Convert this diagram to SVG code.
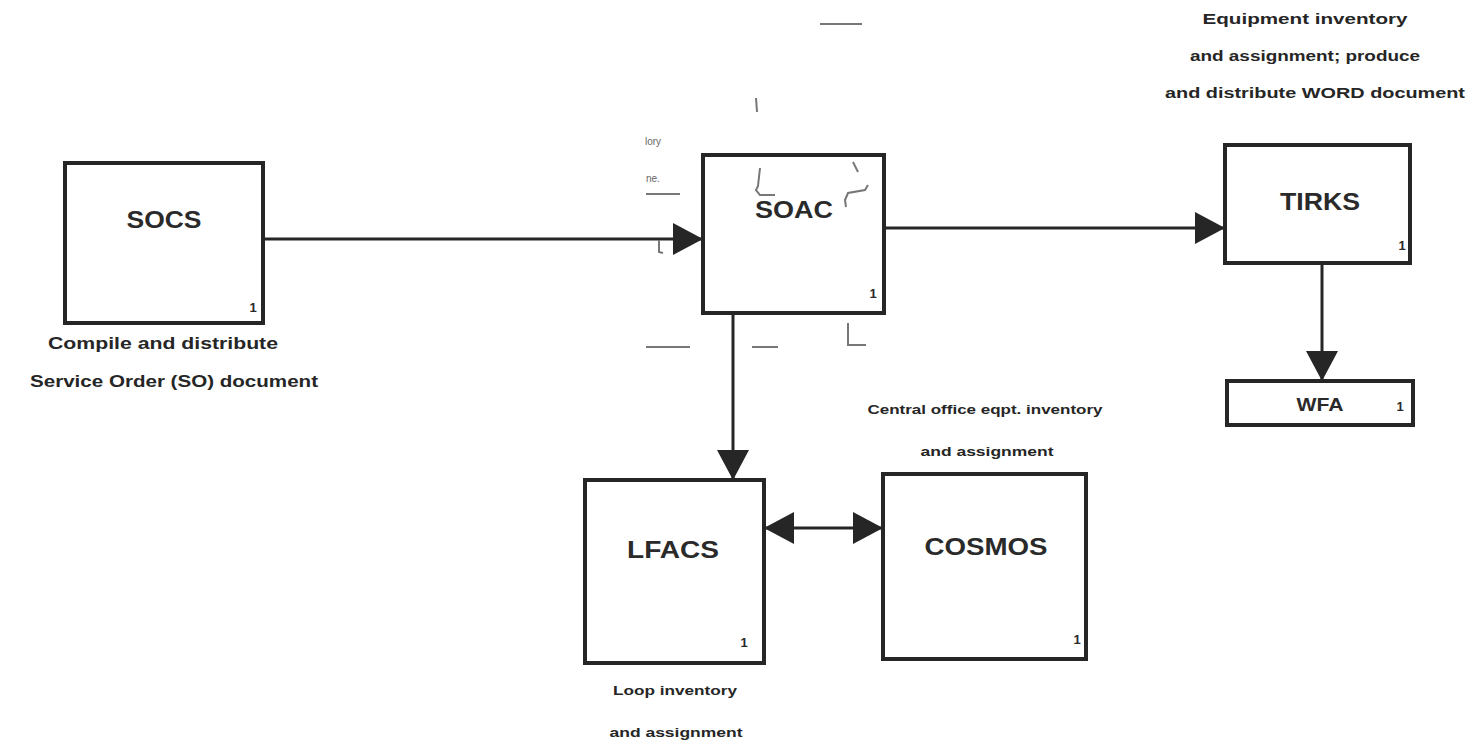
<svg xmlns="http://www.w3.org/2000/svg" width="1477" height="747" viewBox="0 0 1477 747">
<defs>
<style>
.box{fill:#fff;stroke:#262626;stroke-width:4}
.title{font-family:"Liberation Sans",Arial,sans-serif;font-weight:bold;fill:#2a2a2a;text-anchor:middle}
.num{font-family:"Liberation Sans",Arial,sans-serif;font-weight:bold;font-size:13px;fill:#2a2a2a;text-anchor:middle}
.lbl{font-family:"Liberation Sans",Arial,sans-serif;font-weight:bold;fill:#262626;text-anchor:middle}
.conn{stroke:#262626;stroke-width:3;fill:none}
.frag{stroke:#777;stroke-width:2;fill:none}
.fragt{font-family:"Liberation Sans",Arial,sans-serif;font-size:10px;fill:#666}
</style>
<marker id="ah" markerUnits="userSpaceOnUse" viewBox="0 0 30 32" refX="30" refY="16" markerWidth="30" markerHeight="32" orient="auto-start-reverse">
<path d="M0,0 L30,16 L0,32 z" fill="#262626"/>
</marker>
</defs>
<rect width="1477" height="747" fill="#fff"/>

<g id="connectors">
<line class="conn" x1="263" y1="239" x2="703" y2="239" marker-end="url(#ah)"/>
<line class="conn" x1="884" y1="228" x2="1225" y2="228" marker-end="url(#ah)"/>
<line class="conn" x1="1322" y1="263" x2="1322" y2="381" marker-end="url(#ah)"/>
<line class="conn" x1="733" y1="313" x2="733" y2="480" marker-end="url(#ah)"/>
<line class="conn" x1="764" y1="528" x2="883" y2="528" marker-start="url(#ah)" marker-end="url(#ah)"/>
</g>

<g id="SOCS">
<rect class="box" x="65" y="163" width="198" height="160"/>
<text class="title" x="164" y="228" font-size="23" textLength="75" lengthAdjust="spacingAndGlyphs">SOCS</text>
<text class="num" x="253" y="312">1</text>
<text class="lbl" x="163" y="349" font-size="16" textLength="230" lengthAdjust="spacingAndGlyphs">Compile and distribute</text>
<text class="lbl" x="174" y="387" font-size="16" textLength="288" lengthAdjust="spacingAndGlyphs">Service Order (SO) document</text>
</g>

<g id="SOAC">
<rect class="box" x="703" y="155" width="181" height="158"/>
<text class="title" x="794" y="218" font-size="23" textLength="78" lengthAdjust="spacingAndGlyphs">SOAC</text>
<text class="num" x="873" y="298">1</text>
</g>

<g id="TIRKS">
<rect class="box" x="1225" y="145" width="185" height="118"/>
<text class="title" x="1320" y="210" font-size="23" textLength="80" lengthAdjust="spacingAndGlyphs">TIRKS</text>
<text class="num" x="1402" y="250">1</text>
<text class="lbl" x="1305" y="24" font-size="14" textLength="205" lengthAdjust="spacingAndGlyphs">Equipment inventory</text>
<text class="lbl" x="1305" y="61" font-size="14" textLength="230" lengthAdjust="spacingAndGlyphs">and assignment; produce</text>
<text class="lbl" x="1315" y="98" font-size="14" textLength="300" lengthAdjust="spacingAndGlyphs">and distribute WORD document</text>
</g>

<g id="WFA">
<rect class="box" x="1227" y="381" width="186" height="44"/>
<text class="title" x="1320" y="411" font-size="18" textLength="47" lengthAdjust="spacingAndGlyphs">WFA</text>
<text class="num" x="1400" y="411">1</text>
</g>

<g id="LFACS">
<rect class="box" x="585" y="480" width="179" height="183"/>
<text class="title" x="673" y="558" font-size="23" textLength="92" lengthAdjust="spacingAndGlyphs">LFACS</text>
<text class="num" x="744" y="647">1</text>
<text class="lbl" x="675" y="695" font-size="13" textLength="124" lengthAdjust="spacingAndGlyphs">Loop inventory</text>
<text class="lbl" x="676" y="737" font-size="13" textLength="133" lengthAdjust="spacingAndGlyphs">and assignment</text>
</g>

<g id="COSMOS">
<rect class="box" x="883" y="474" width="203" height="185"/>
<text class="title" x="986" y="555" font-size="23" textLength="123" lengthAdjust="spacingAndGlyphs">COSMOS</text>
<text class="num" x="1077" y="644">1</text>
<text class="lbl" x="985" y="414" font-size="13" textLength="235" lengthAdjust="spacingAndGlyphs">Central office eqpt. inventory</text>
<text class="lbl" x="987" y="456" font-size="13" textLength="133" lengthAdjust="spacingAndGlyphs">and assignment</text>
</g>

<g id="fragments">
<line class="frag" x1="820" y1="24" x2="862" y2="24"/>
<line class="frag" x1="756" y1="98" x2="757" y2="112"/>
<text class="fragt" x="645" y="145">lory</text>
<text class="fragt" x="646" y="182">ne.</text>
<line class="frag" x1="646" y1="194" x2="680" y2="194"/>
<polyline class="frag" points="760,168 758,186 756,190 760,195 775,195"/>
<polyline class="frag" points="853,162 858,172"/>
<polyline class="frag" points="868,185 865,190 848,193 845,200 846,207"/>
<polyline class="frag" points="659,240 659,252 663,253"/>
<line class="frag" x1="646" y1="347" x2="690" y2="347" stroke="#999"/>
<line class="frag" x1="752" y1="347" x2="778" y2="347"/>
<polyline class="frag" points="848,323 848,345 866,345"/>
</g>
</svg>
